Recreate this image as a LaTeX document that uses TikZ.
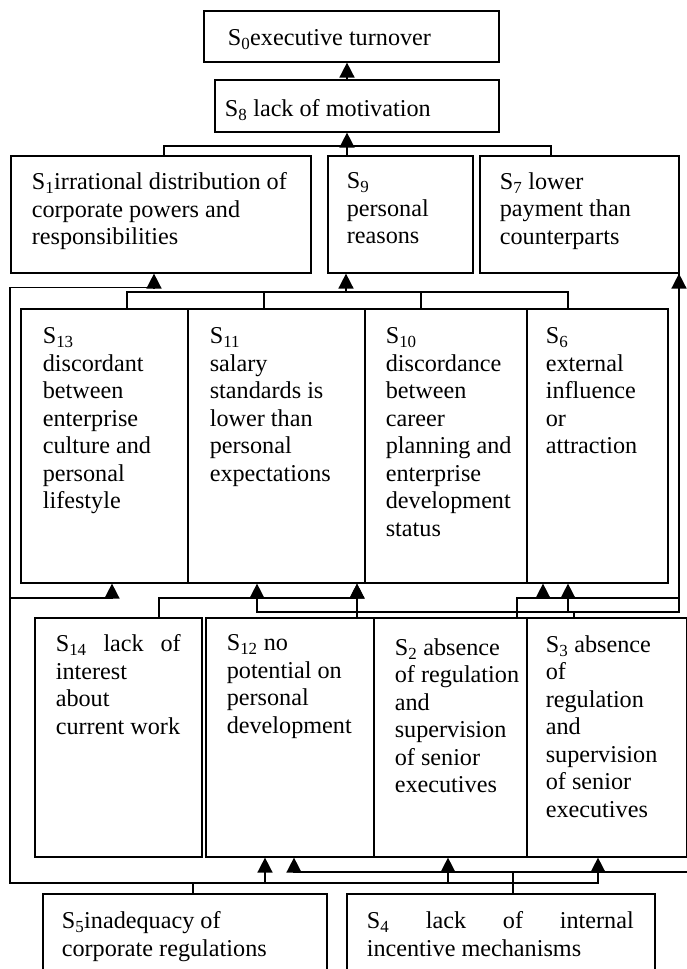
\documentclass[tikz,border=0pt]{standalone}
\usepackage{fontspec}
\setmainfont{Liberation Serif}
\usetikzlibrary{arrows.meta}

\tikzset{
  box/.style={draw, inner sep=0pt, anchor=north west},
  lbl/.style={anchor=north west, align=left, inner sep=0pt},
  arr/.style={-{Triangle[length=15pt,width=15pt]}},
}

\begin{document}
\begin{tikzpicture}[x=1pt, y=-1pt, line width=1.6pt, font=\fontsize{24.2}{27.5}\selectfont]
		\clip (0,0) rectangle (687,969);

		% factor boxes
		\node[box, minimum width=295pt, minimum height=51pt] (s0) at (203,10) {};
		\node[box, minimum width=284pt, minimum height=52pt] (s8) at (214,79) {};
		\node[box, minimum width=300pt, minimum height=117pt] (s1) at (10,155) {};
		\node[box, minimum width=145pt, minimum height=117pt] (s9) at (327,155) {};
		\node[box, minimum width=199pt, minimum height=117pt] (s7) at (479,155) {};
		\node[box, minimum width=167pt, minimum height=274pt] (s13) at (20,308) {};
		\node[box, minimum width=177pt, minimum height=274pt] (s11) at (187,308) {};
		\node[box, minimum width=162pt, minimum height=274pt] (s10) at (364,308) {};
		\node[box, minimum width=141pt, minimum height=274pt] (s6) at (526,308) {};
		\node[box, minimum width=167pt, minimum height=239pt] (s14) at (34,617) {};
		\node[box, minimum width=168pt, minimum height=239pt] (s12) at (205,617) {};
		\node[box, minimum width=153pt, minimum height=239pt] (s2) at (373,617) {};
		\node[box, minimum width=160pt, minimum height=239pt] (s3) at (526,617) {};
		\node[box, minimum width=284pt, minimum height=100pt] (s5) at (42,893) {};
		\node[box, minimum width=308pt, minimum height=100pt] (s4) at (346,893) {};

		% texts
		\node[lbl] (t0) at (227,28.8) {S\textsubscript{0}executive turnover};
		\node[lbl] (t8) at (224,98.8) {S\textsubscript{8} lack of motivation};
		\node[lbl] (t1) at (31,171.8) {S\textsubscript{1}irrational distribution of\\corporate powers and\\responsibilities};
		\node[lbl] (t9) at (346,171.8) {S\textsubscript{9}\\personal\\reasons};
		\node[lbl] (t7) at (499,171.8) {S\textsubscript{7} lower\\payment than\\counterparts};
		\node[lbl] (t13) at (42,326.8) {S\textsubscript{13}\\discordant\\between\\enterprise\\culture and\\personal\\lifestyle};
		\node[lbl] (t11) at (209,326.8) {S\textsubscript{11}\\salary\\standards is\\lower than\\personal\\expectations};
		\node[lbl] (t10) at (385,326.8) {S\textsubscript{10}\\discordance\\between\\career\\planning and\\enterprise\\development\\status};
		\node[lbl] (t6) at (545,326.8) {S\textsubscript{6}\\external\\influence\\or\\attraction};
		\node[lbl] (t14) at (55,633.8) {\makebox[125pt][s]{S\textsubscript{14} lack of}\\interest\\about\\current work};
		\node[lbl] (t12) at (226,633.8) {S\textsubscript{12} no\\potential on\\personal\\development};
		\node[lbl] (t2) at (394,637.8) {S\textsubscript{2} absence\\of regulation\\and\\supervision\\of senior\\executives};
		\node[lbl] (t3) at (545,634.8) {S\textsubscript{3} absence\\of\\regulation\\and\\supervision\\of senior\\executives};
		\node[lbl] (t5) at (61,910.8) {S\textsubscript{5}inadequacy of\\corporate regulations};
		\node[lbl] (t4) at (366,910.8) {\makebox[267pt][s]{S\textsubscript{4} lack of internal}\\incentive mechanisms};

		% junctions
		\coordinate (b8) at (347,146);
		\coordinate (b9) at (346,292);
		\coordinate (j13) at (10,598);

		% upper levels
		\draw[arr] ([xshift=133]s8.north west) -- ([xshift=144]s0.south west);
		\draw ([xshift=154]s1.north west) |- (b8) -| ([xshift=72]s7.north west);
		\draw[arr] ([xshift=20]s9.north west) -- ([xshift=133]s8.south west);

		% row of S13, S11, S10, S6 to S9
		\draw ([xshift=107]s13.north west) |- (b9) -| ([xshift=42]s6.north west);
		\draw ([xshift=77]s11.north west) -- ++(0,-16);
		\draw ([xshift=57]s10.north west) -- ++(0,-16);
		\draw[arr] (b9) -- ([xshift=19]s9.south west);

		% S5
		\draw[arr] ([xshift=151]s5.north west) -- ++(0,-10) -| ([yshift=-14]s1.south west) -| ([xshift=144]s1.south west);
		\draw[arr] (j13) -| ([xshift=92]s13.south west);
		\draw[arr] ([xshift=151]s5.north west) -- ++(0,-10) -| ([xshift=60]s12.south west);
		\draw[arr] ([xshift=151]s5.north west) -- ++(0,-10) -| ([xshift=75]s2.south west);
		\draw[arr] ([xshift=151]s5.north west) -- ++(0,-10) -| ([xshift=72]s3.south west);

		% S4
		\draw[arr] ([xshift=167]s4.north west) -- ++(0,-21) -| ([xshift=89]s12.south west);
		\draw ([xshift=167]s4.north west) -- ++(0,-21) -- ++(190,0);

		% S14, S12
		\draw[arr] ([xshift=125]s14.north west) -- ++(0,-19) -| ([xshift=170]s11.south west);
		\draw[arr] ([xshift=152]s12.north west) -- ([xshift=170]s11.south west);

		% S2
		\draw[arr] ([xshift=144]s2.north west) -- ++(0,-19) -| ([xshift=200]s7.south west);
		\draw[arr] ([xshift=144]s2.north west) -- ++(0,-19) -| ([xshift=17]s6.south west);

		% S3
		\draw[arr] ([xshift=48]s3.north west) -- ++(0,-5) -| ([xshift=70]s11.south west);
		\draw[arr] ([xshift=48]s3.north west) -- ++(0,-5) -| ([xshift=42]s6.south west);
		\draw ([xshift=48]s3.north west) -- ++(0,-5) -| ([xshift=200]s7.south west);
\end{tikzpicture}
\end{document}
